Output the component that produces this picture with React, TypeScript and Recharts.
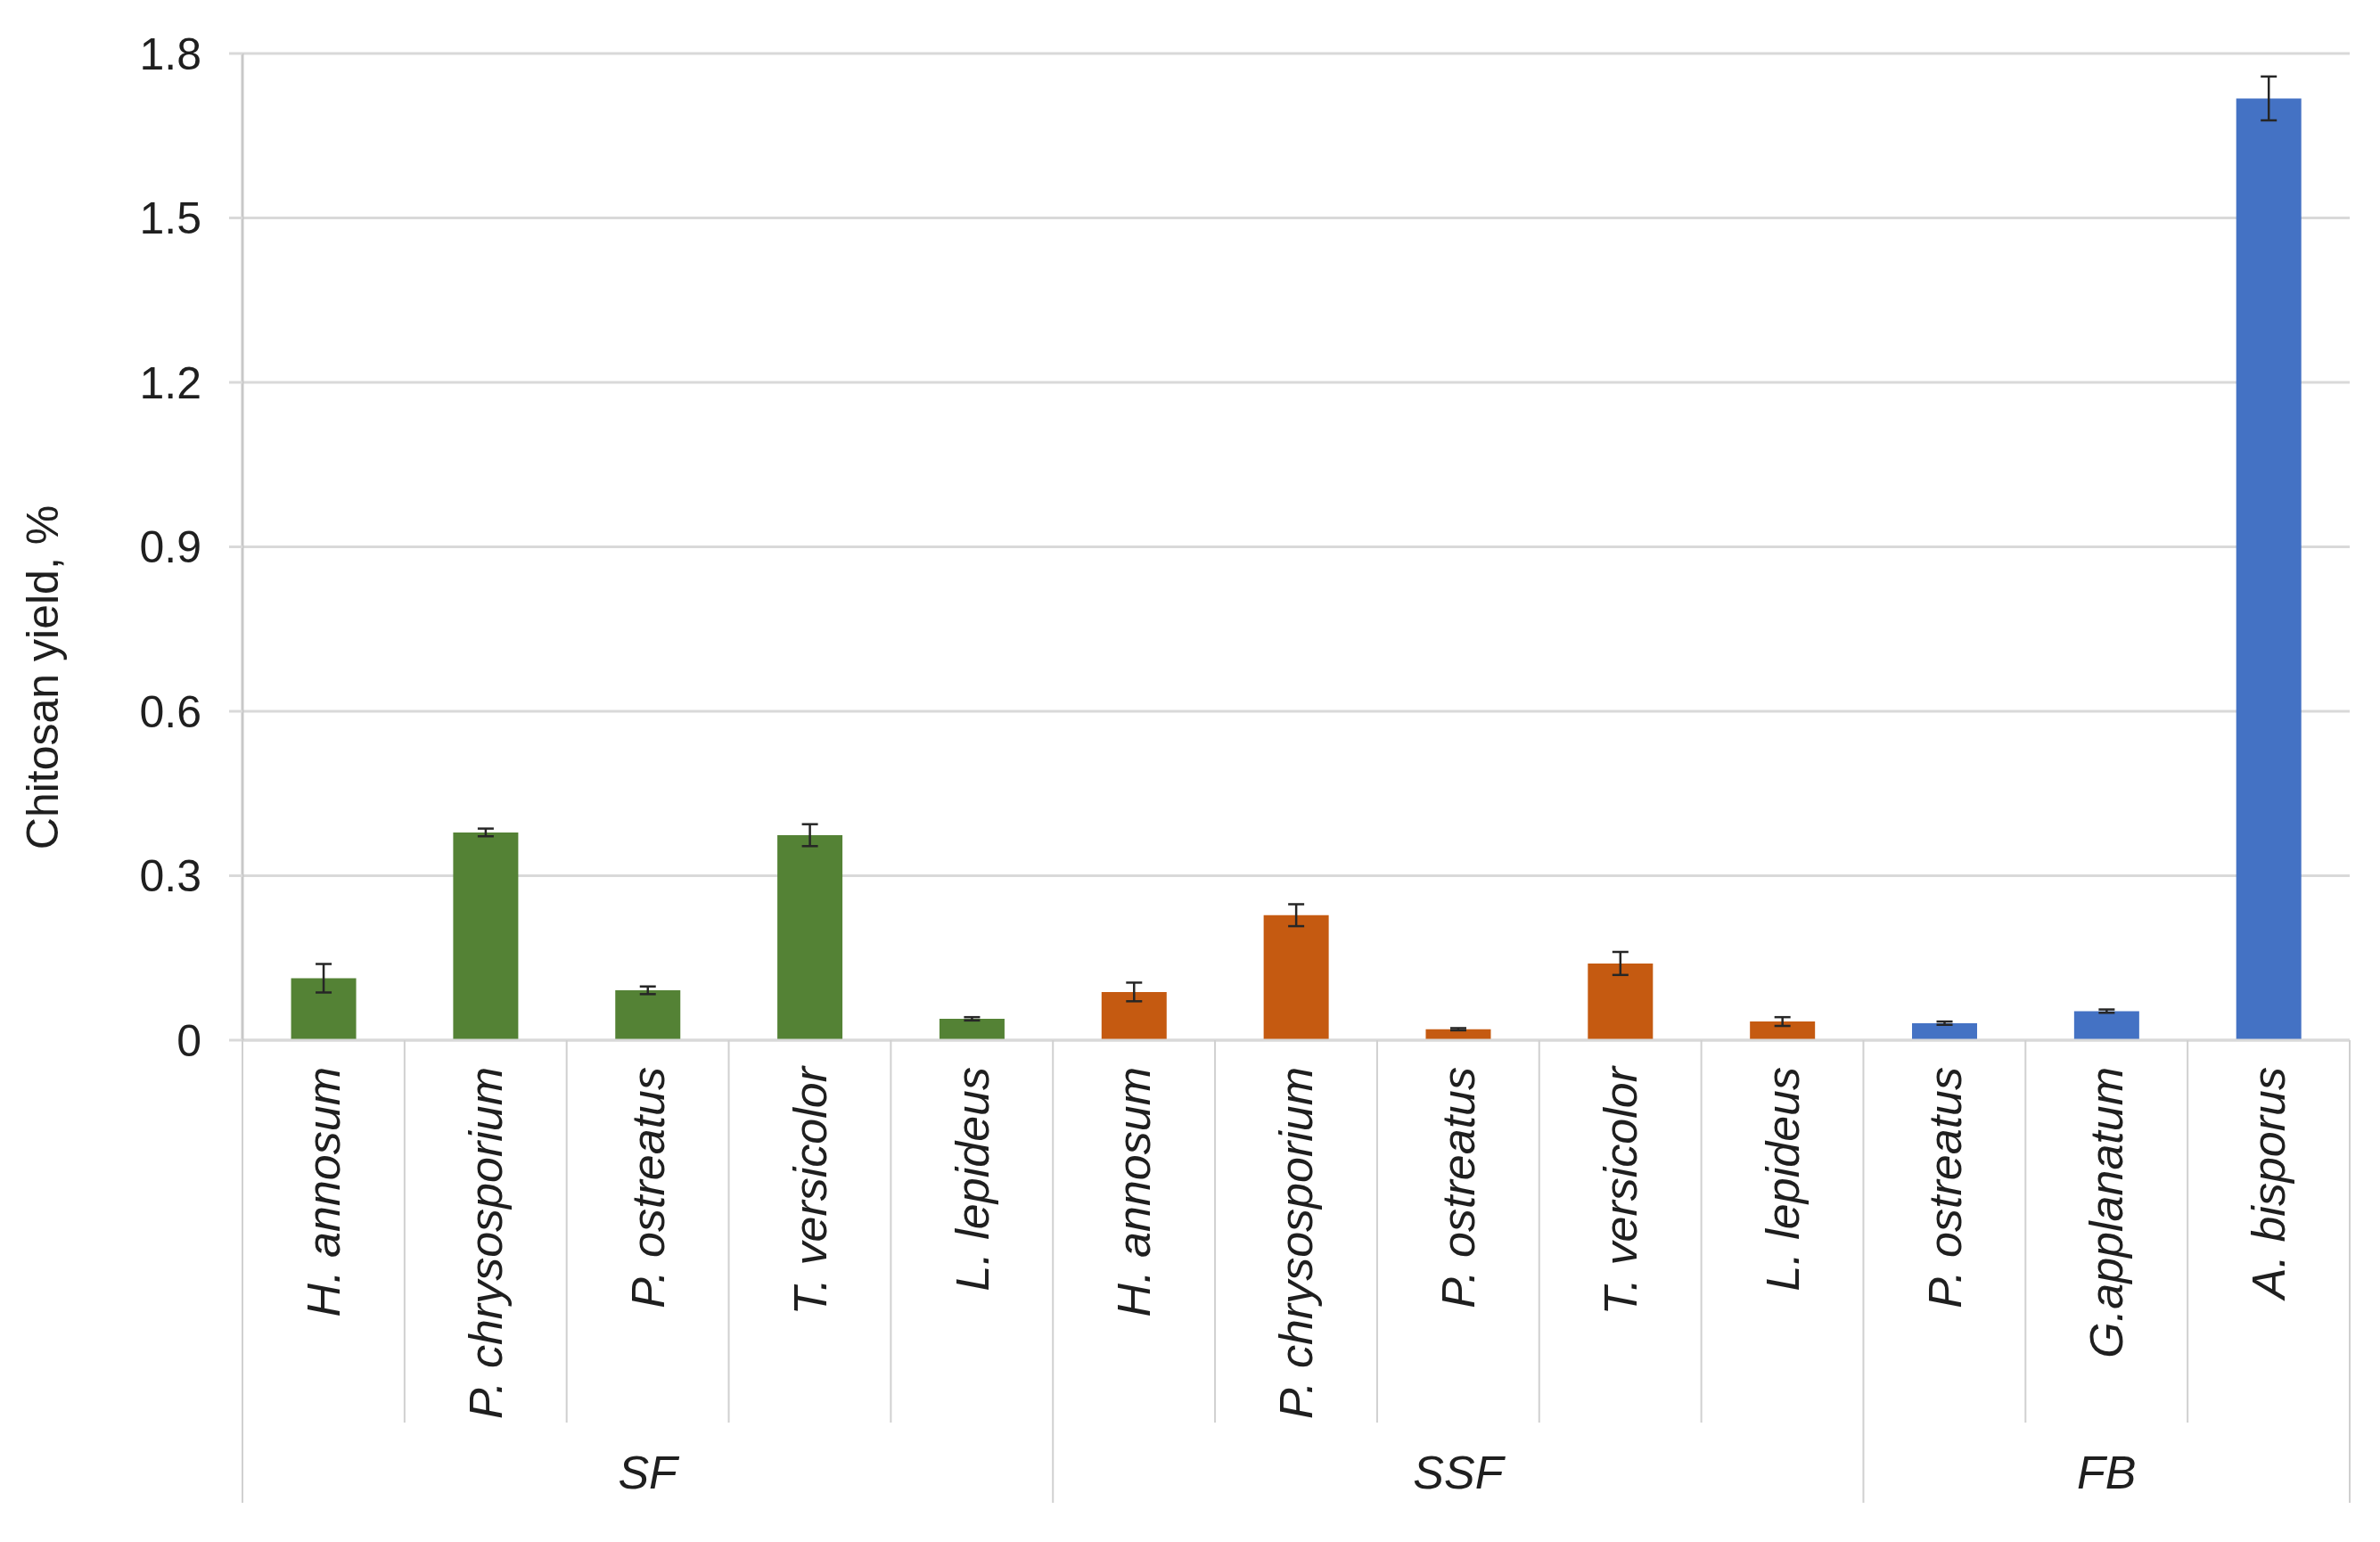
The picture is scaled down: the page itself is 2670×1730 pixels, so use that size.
import React from 'react';
import { BarChart, Bar, XAxis, YAxis, CartesianGrid, Cell, ErrorBar } from 'recharts';

const species = [
  'H. annosum', 'P. chrysosporium', 'P. ostreatus', 'T. versicolor', 'L. lepideus',
  'H. annosum', 'P. chrysosporium', 'P. ostreatus', 'T. versicolor', 'L. lepideus',
  'P. ostreatus', 'G.applanatum', 'A. bisporus',
];
const categoryGroup = ['SF', 'SF', 'SF', 'SF', 'SF', 'SSF', 'SSF', 'SSF', 'SSF', 'SSF', 'FB', 'FB', 'FB'];
const yieldValues = [0.113, 0.379, 0.091, 0.374, 0.039, 0.088, 0.228, 0.02, 0.14, 0.034, 0.031, 0.053, 1.718];
const yieldErrors = [0.026, 0.007, 0.007, 0.02, 0.003, 0.017, 0.02, 0.002, 0.021, 0.008, 0.003, 0.003, 0.04];
const yTicks = [0, 0.3, 0.6, 0.9, 1.2, 1.5, 1.8];

const groupColors: Record<string, string> = { SF: '#548235', SSF: '#C55A11', FB: '#4472C4' };

const data = species.map((name, i) => ({
  id: i,
  name,
  group: categoryGroup[i],
  value: yieldValues[i],
  err: yieldErrors[i],
}));

const W = 2654;
const H = 1714;
const M = { top: 52, right: 26, left: 0, bottom: 0 };
const Y_AXIS_W = 264;
const X_AXIS_H = 555;
const PLOT_W = W - Y_AXIS_W - M.right;
const BAND = PLOT_W / species.length;
const FONT = '"Liberation Sans", Arial, Helvetica, sans-serif';
const TEXT = '#1f1f1f';
const LINE = '#d0d0d0';

const isGroupStart = (i: number) => i === 0 || categoryGroup[i] !== categoryGroup[i - 1];

const CategoryTick = (props: any) => {
  const { x, y, payload } = props;
  const i = payload.index;
  const left = x - BAND / 2;
  const right = x + BAND / 2;
  const start = isGroupStart(i);
  const last = i === species.length - 1;
  let groupLabel = null;
  if (start) {
    const g = categoryGroup[i];
    const size = categoryGroup.filter((c) => c === g).length;
    groupLabel = (
      <text
        x={left + (size * BAND) / 2}
        y={y + 485}
        textAnchor="middle"
        dominantBaseline="central"
        fontFamily={FONT}
        fontSize={52}
        fontStyle="italic"
        fill={TEXT}
      >
        {g}
      </text>
    );
  }
  return (
    <g>
      <line x1={left} y1={y} x2={left} y2={y + (start ? 519 : 429)} stroke={LINE} strokeWidth={2} />
      {last && <line x1={right} y1={y} x2={right} y2={y + 519} stroke={LINE} strokeWidth={2} />}
      <text
        transform={`translate(${x}, ${y + 30}) rotate(-90)`}
        textAnchor="end"
        dy="0.35em"
        fontFamily={FONT}
        fontSize={52}
        fontStyle="italic"
        fill={TEXT}
      >
        {species[i]}
      </text>
      {groupLabel}
    </g>
  );
};

const YTitle = () => (
  <text
    transform="translate(40, 752) rotate(-90)"
    textAnchor="middle"
    dominantBaseline="central"
    fontFamily={FONT}
    fontSize={50}
    fill={TEXT}
  >
    Chitosan yield, %
  </text>
);

export default function App() {
  return (
    <div style={{ width: W, height: H, background: '#fff' }}>
      <BarChart width={W} height={H} data={data} margin={M} barCategoryGap="30%">
        <CartesianGrid vertical={false} stroke="#d9d9d9" strokeWidth={3} />
        <XAxis
          dataKey="id"
          interval={0}
          height={X_AXIS_H}
          axisLine={{ stroke: '#d9d9d9', strokeWidth: 3 }}
          tickLine={false}
          tickSize={0}
          tickMargin={0}
          tick={<CategoryTick />}
        />
        <YAxis
          width={Y_AXIS_W}
          domain={[0, 1.8]}
          ticks={yTicks}
          interval={0}
          axisLine={{ stroke: '#c8c8c8', strokeWidth: 3 }}
          tickLine={{ stroke: '#d9d9d9', strokeWidth: 3 }}
          tickSize={15}
          tickMargin={31}
          tickFormatter={(v: number) => (v === 0 ? '0' : v.toFixed(1))}
          tick={{ fontFamily: FONT, fontSize: 50, fill: TEXT }}
          label={<YTitle />}
        />
        <Bar dataKey="value" isAnimationActive={false}>
          {data.map((d) => (
            <Cell key={d.id} fill={groupColors[d.group]} />
          ))}
          <ErrorBar dataKey="err" width={9} strokeWidth={2.5} stroke="#262626" isAnimationActive={false} />
        </Bar>
      </BarChart>
    </div>
  );
}
